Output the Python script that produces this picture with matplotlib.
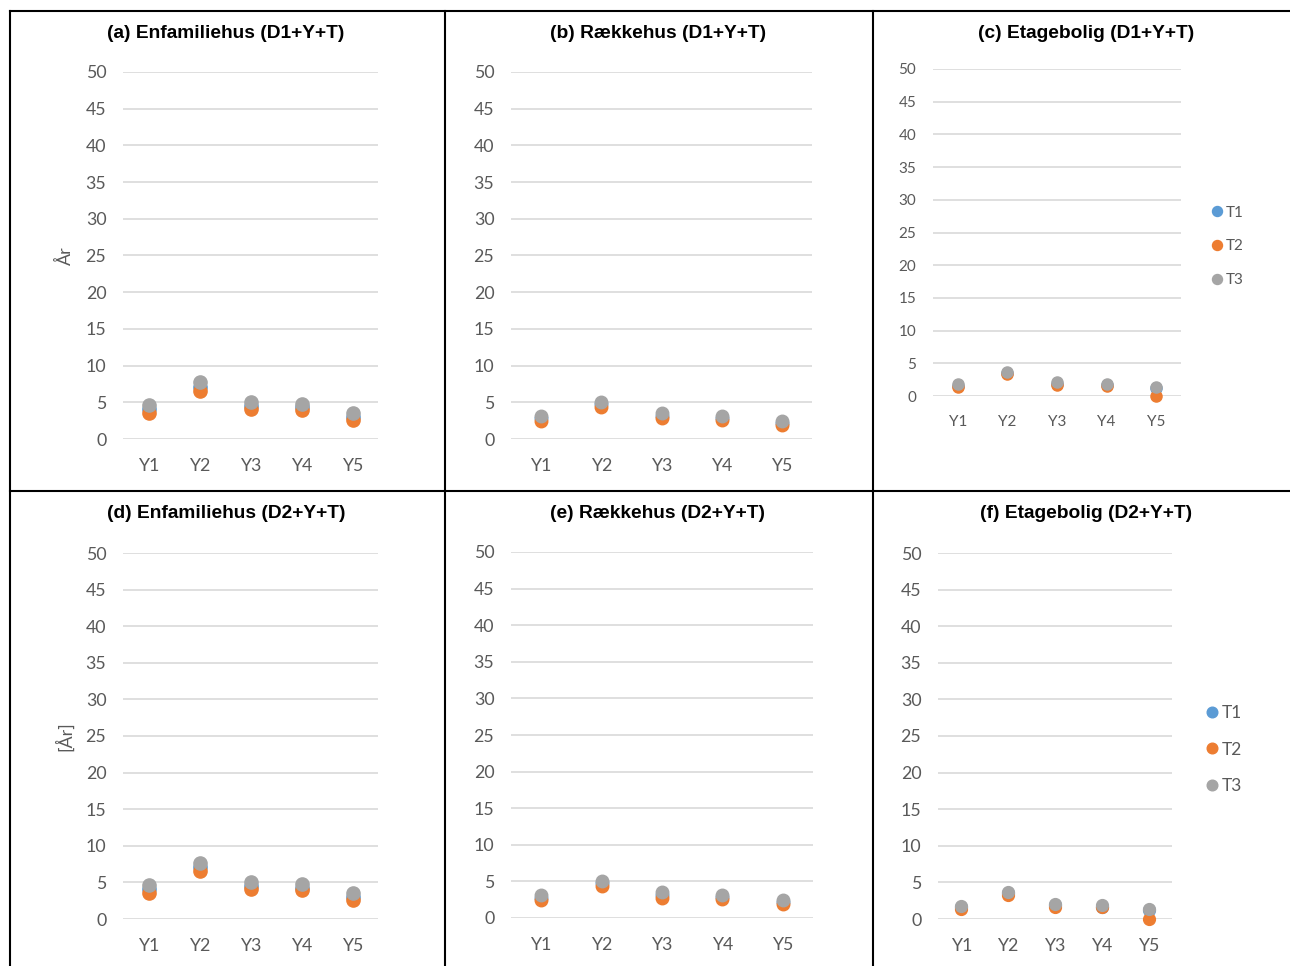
import matplotlib.pyplot as plt
from matplotlib.lines import Line2D

years = ["Y1", "Y2", "Y3", "Y4", "Y5"]
series = ["T1", "T2", "T3"]
colors = ["#5B9BD5", "#ED7D31", "#A5A5A5"]

# Enfamiliehus
enf_t1 = [4.1, 7.1, 4.5, 4.3, 3.0]
enf_t2 = [3.5, 6.6, 4.1, 3.9, 2.6]
enf_t3 = [4.7, 7.7, 5.0, 4.8, 3.5]
# Rækkehus
rae_t1 = [2.8, 4.8, 3.1, 2.9, 2.2]
rae_t2 = [2.5, 4.4, 2.8, 2.6, 1.9]
rae_t3 = [3.1, 5.1, 3.5, 3.2, 2.5]
# Etagebolig
eta_t1 = [1.6, 3.5, 1.9, 1.7, 1.2]
eta_t2 = [1.4, 3.3, 1.7, 1.6, 0.0]
eta_t3 = [1.8, 3.7, 2.1, 1.9, 1.3]

titles = ["(a) Enfamiliehus (D1+Y+T)", "(b) Rækkehus (D1+Y+T)", "(c) Etagebolig (D1+Y+T)",
          "(d) Enfamiliehus (D2+Y+T)", "(e) Rækkehus (D2+Y+T)", "(f) Etagebolig (D2+Y+T)"]
data = [(enf_t1, enf_t2, enf_t3), (rae_t1, rae_t2, rae_t3), (eta_t1, eta_t2, eta_t3)] * 2

W, H = 1290, 966
fig = plt.figure(figsize=(W / 100, H / 100), dpi=100)

def fx(x):
    return x / W

def fy(y):
    return 1 - y / H

# plot areas in pixels: left, right, top(50), bottom(0)
boxes = [(123, 378, 72, 439), (511, 812, 72, 439), (933, 1181, 69, 396),
         (123, 378, 553, 919), (511, 813, 552, 918), (938, 1172, 553, 919)]
title_pos = [(226, 33), (658, 33), (1086, 33), (226, 514), (658, 514), (1086, 514)]
tick_fs = [12.8, 12.8, 11, 12.8, 12.8, 12.8]
msz = [9.5, 9, 8, 9.5, 9, 8.5]

gray_txt = "#595959"
for i, (l, r, t, b) in enumerate(boxes):
    ax = fig.add_axes([fx(l), fy(b), fx(r - l), (b - t) / H])
    for vals, c, s in zip(data[i], colors, series):
        ax.plot(range(5), vals, "o", color=c, ms=msz[i], label=s, clip_on=False, zorder=3)
    ax.set_xlim(-0.5, 4.5)
    ax.set_ylim(0, 50)
    ax.set_yticks(range(0, 51, 5))
    ax.set_xticks(range(5))
    ax.set_xticklabels(years)
    ax.grid(axis="y", color="#D9D9D9", lw=1.2)
    ax.set_axisbelow(True)
    for sp in ax.spines.values():
        sp.set_visible(False)
    ax.tick_params(length=0, colors=gray_txt, labelsize=tick_fs[i], pad=12)
    ax.tick_params(axis="x", pad=14)
    for lab in ax.get_xticklabels() + ax.get_yticklabels():
        lab.set_family("Lato")
    fig.text(fx(title_pos[i][0]), fy(title_pos[i][1]), titles[i], ha="center", va="center",
             fontsize=13.8, fontweight="bold", family="Liberation Sans")
    if i == 2:
        fig.legend(handles=ax.get_lines(), loc="upper left", bbox_to_anchor=(fx(1206), fy(198)),
                   frameon=False, handlelength=0.5, handletextpad=0.3,
                   labelspacing=1.3, borderpad=0, markerscale=0.9,
                   labelcolor=gray_txt, prop={"family": "Lato", "size": 11})
    if i == 5:
        fig.legend(handles=ax.get_lines(), loc="upper left", bbox_to_anchor=(fx(1199), fy(696)),
                   frameon=False, handlelength=0.5, handletextpad=0.3,
                   labelspacing=1.2, borderpad=0, markerscale=0.9,
                   labelcolor=gray_txt, prop={"family": "Lato", "size": 12.5})

fig.text(fx(65), fy(256), "År", rotation=90, ha="center", va="center", fontsize=13,
         color=gray_txt, family="Lato")
fig.text(fx(65), fy(736), "[År]", rotation=90, ha="center", va="center", fontsize=13,
         color=gray_txt, family="Lato")

# panel borders
for x in [9.5, 445, 873]:
    fig.add_artist(Line2D([fx(x), fx(x)], [fy(11), 0], color="black", lw=1.5))
for y in [11, 491]:
    fig.add_artist(Line2D([fx(9.5), 1], [fy(y), fy(y)], color="black", lw=1.5))

fig.savefig("out.png", dpi=100)
